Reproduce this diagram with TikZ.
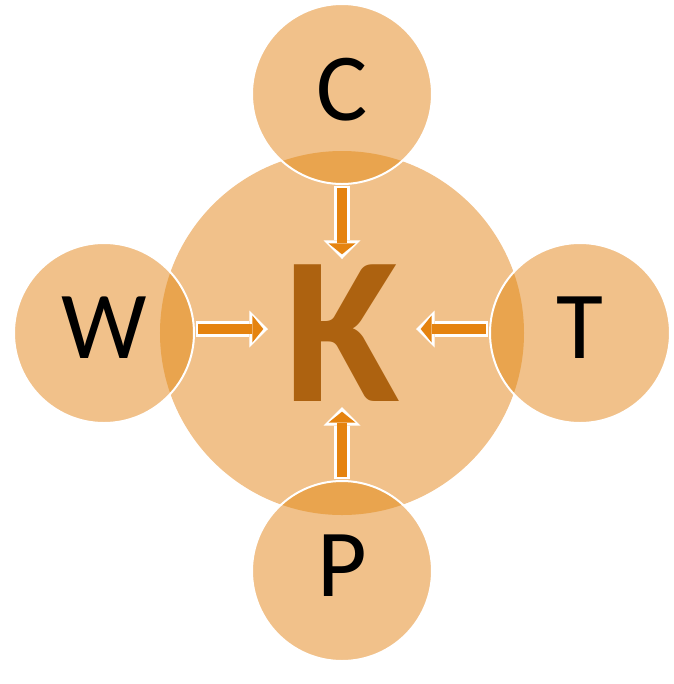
\documentclass[tikz,border=0pt]{standalone}
\usepackage{fontspec}
\setmainfont{Carlito}
\usetikzlibrary{arrows.meta}
\definecolor{ringfill}{HTML}{F1C18A}
\definecolor{ringover}{HTML}{E9A44E}
\definecolor{arrowfill}{HTML}{E5830F}
\definecolor{kbrown}{HTML}{AD6210}

\begin{document}
\begin{tikzpicture}[
    x=0.3mm, y=-0.3mm, % one unit is one pixel of the sketch
    hub/.style={circle, fill=ringfill, inner sep=0pt, minimum size=109.2mm,
      text=kbrown, font=\fontsize{180}{180}\selectfont\bfseries},
    sat/.style={circle, fill=ringfill, draw=white, line width=0.6mm, inner sep=0pt,
      minimum size=54mm, text depth=3mm, font=\fontsize{82}{82}\selectfont,
      path picture={\fill[ringover] (k.center) circle[radius=54.6mm];}},
    arrowout/.style={draw=white, line width=4.8mm, shorten <=27.6mm, shorten >=22.2mm,
      -{Triangle[width=11.1mm, length=5.6mm, line width=0pt]}},
    arrowin/.style={draw=arrowfill, line width=3mm, shorten <=28.2mm, shorten >=23.6mm,
      -{Triangle[width=8.1mm, length=3.3mm, line width=0pt]}}
  ]
  \useasboundingbox (0,0) rectangle (674,684);

  \node[hub] (k) at (342,333) {K};
  \node[sat] (c) at (342,94) {C};
  \node[sat] (w) at (104,333) {W};
  \node[sat] (t) at (580,333) {T};
  \node[sat] (p) at (342,571) {P};

  \foreach \s/\dy in {c/0mm, w/1.2mm, t/1.2mm, p/0mm}
    {
      \draw[arrowout] ([yshift=\dy]\s.center) -- ([yshift=\dy]k.center);
      \draw[arrowin] ([yshift=\dy]\s.center) -- ([yshift=\dy]k.center);
    }
\end{tikzpicture}
\end{document}
